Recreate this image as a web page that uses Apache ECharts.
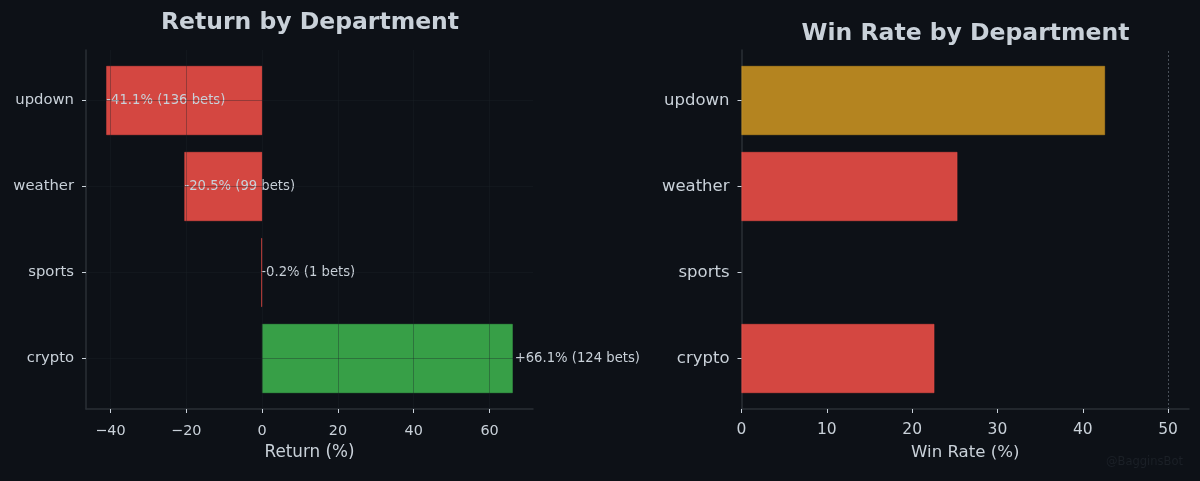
<!DOCTYPE html>
<html>
<head>
<meta charset="utf-8">
<style>
html, body { margin: 0; padding: 0; background: #0d1117; }
#report { width: 1200px; height: 481px; }
</style>
<script src="https://cdn.jsdelivr.net/npm/echarts@6/dist/echarts.min.js"></script>
</head>
<body>
<div id="report"></div>
<script>
// bottom to top, the order the picture reads upward
var departments = ['crypto', 'sports', 'weather', 'updown'];
var returns = [66.1, -0.2, -20.5, -41.1];
var bets = [124, 1, 99, 136];
var winRates = [22.6, 0, 25.3, 42.6];
var returnTicks = [-40, -20, 0, 20, 40, 60];
var winTicks = [0, 10, 20, 30, 40, 50];
var breakEven = 50;

var RED = 'rgba(248,81,73,0.85)';
var GREEN = 'rgba(63,185,80,0.85)';
var GOLD = 'rgba(210,153,34,0.85)';
var TEXT = '#c9d1d9';
var LINE = '#2a2f36';
var GRID = 'rgba(30,34,40,0.35)';
var FONT = '"DejaVu Sans"';

var myChart = echarts.init(document.getElementById('report'));

function signed(v) {
    return (v > 0 ? '+' : '') + v.toFixed(1) + '%';
}

function returnColor(v) {
    return v >= 0 ? GREEN : RED;
}

function winColor(v) {
    return v >= 40 ? GOLD : RED;
}

var returnData = returns.map(function(v, i) {
    return {
        value: v,
        itemStyle: { color: returnColor(v), borderColor: returnColor(v), borderWidth: 0.5 },
        label: {
            show: true,
            position: v >= 0 ? 'right' : 'insideLeft',
            distance: v >= 0 ? 2 : 0,
            formatter: signed(v) + ' (' + bets[i] + ' bets)',
            color: TEXT,
            fontFamily: FONT,
            fontSize: 13.2
        }
    };
});

var winData = winRates.map(function(v) {
    return { value: v, itemStyle: { color: winColor(v), borderColor: winColor(v), borderWidth: v > 0 ? 0.5 : 0 } };
});

// the frame grids carry the visible x axis and spines, the inner grids the bars,
// because the bar spacing leaves a margin that a category band alone does not give
function frameX(idx, min, max, ticks, name, nameSize, labelSize, labelMargin, showSplit) {
    return {
        type: 'value',
        gridIndex: idx,
        min: min,
        max: max,
        z: 5,
        name: name,
        nameLocation: 'middle',
        nameGap: 35,
        nameTextStyle: { color: TEXT, fontFamily: FONT, fontSize: nameSize },
        axisLine: { show: true, onZero: false, lineStyle: { color: LINE, width: 1.5 } },
        axisTick: { show: true, length: 4, customValues: ticks, lineStyle: { color: TEXT, width: 1 } },
        axisLabel: {
            color: TEXT,
            fontFamily: FONT,
            fontSize: labelSize,
            margin: labelMargin,
            customValues: ticks,
            formatter: function(v) { return String(v).replace('-', '\u2212'); }
        },
        splitLine: { show: showSplit, lineStyle: { color: GRID, width: 1 } }
    };
}

function frameY(idx) {
    return {
        type: 'value',
        gridIndex: idx,
        min: 0,
        max: 1,
        axisLine: { show: true, onZero: false, lineStyle: { color: LINE, width: 1.5 } },
        axisTick: { show: false },
        axisLabel: { show: false },
        splitLine: { show: false }
    };
}

function barX(idx, min, max) {
    return { type: 'value', gridIndex: idx, min: min, max: max, show: false };
}

function barY(idx, labelSize, showSplit) {
    return {
        type: 'category',
        gridIndex: idx,
        data: departments,
        z: 5,
        axisLine: { show: false, onZero: false },
        axisTick: { show: true, length: 4, alignWithLabel: true, lineStyle: { color: TEXT, width: 1 } },
        axisLabel: { color: TEXT, fontFamily: FONT, fontSize: labelSize, margin: 12, padding: [2, 0, 0, 0] },
        splitLine: { show: showSplit, alignWithLabel: true, lineStyle: { color: GRID, width: 1 } }
    };
}

var option = {
    backgroundColor: '#0d1117',
    animation: false,
    title: [
        {
            text: 'Return by Department',
            left: 305,
            top: 6,
            textAlign: 'center',
            textStyle: { color: TEXT, fontFamily: FONT, fontSize: 23.5, fontWeight: 'bold' }
        },
        {
            text: 'Win Rate by Department',
            left: 960.5,
            top: 17,
            textAlign: 'center',
            textStyle: { color: TEXT, fontFamily: FONT, fontSize: 23.5, fontWeight: 'bold' }
        }
    ],
    grid: [
        { left: 86, top: 50, width: 447, height: 359 },
        { left: 86, top: 57.5, width: 447, height: 344 },
        { left: 741.5, top: 50, width: 447.5, height: 359 },
        { left: 741.5, top: 57.5, width: 447.5, height: 344 }
    ],
    xAxis: [
        frameX(0, -46.46, 71.46, returnTicks, 'Return (%)', 16.8, 14.4, 15, true),
        barX(1, -46.46, 71.46),
        frameX(2, 0, 52.45, winTicks, 'Win Rate (%)', 16.6, 15.5, 13, false),
        barX(3, 0, 52.45)
    ],
    yAxis: [
        frameY(0),
        barY(1, 14.8, true),
        frameY(2),
        barY(3, 16.5, false)
    ],
    series: [
        { type: 'bar', name: 'Return', xAxisIndex: 1, yAxisIndex: 1, barWidth: 69, data: returnData },
        { type: 'bar', name: 'Win Rate', xAxisIndex: 3, yAxisIndex: 3, barWidth: 69, data: winData },
        {
            type: 'line',
            name: 'Break even',
            xAxisIndex: 2,
            yAxisIndex: 2,
            data: [],
            markLine: {
                silent: true,
                symbol: 'none',
                label: { show: false },
                lineStyle: { color: '#484f58', type: [2, 2], width: 1 },
                data: [{ xAxis: breakEven }]
            }
        }
    ],
    graphic: [
        {
            type: 'text',
            right: 17,
            top: 456,
            style: { text: '@BagginsBot', fill: '#1b2027', font: '11.5px "DejaVu Sans"' }
        }
    ]
};

myChart.setOption(option);
</script>
</body>
</html>
